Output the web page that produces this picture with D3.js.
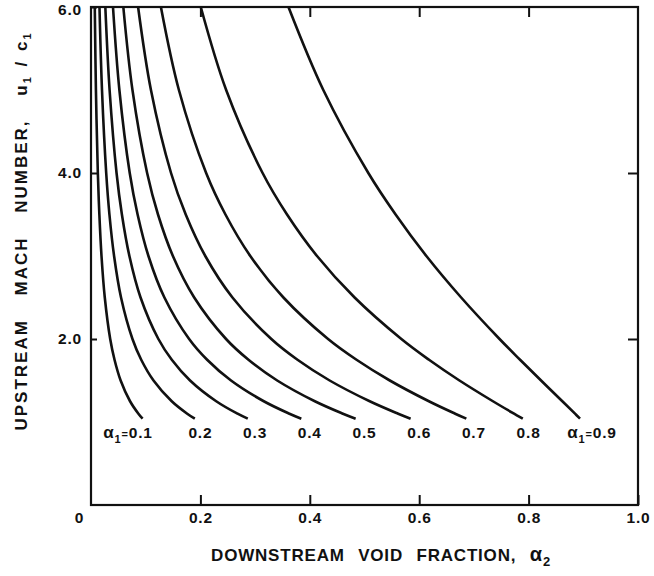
<!DOCTYPE html>
<html>
<head>
<meta charset="utf-8">
<script src="https://cdn.jsdelivr.net/npm/d3@7"></script>
<style>
  html, body { margin: 0; padding: 0; background: #fff; }
  svg { display: block; }
  text { font-family: "Liberation Sans", Arial, sans-serif; font-weight: bold; fill: #111; }
</style>
</head>
<body>
<svg id="chart" width="654" height="576"></svg>
<script>
// Upstream Mach number levels (y) at which points were read
const machLevels = [1.04, 1.1, 1.25, 1.5, 1.75, 2, 2.5, 3, 3.5, 4, 5, 6];
// Upstream void fraction of each curve
const alpha1Values = [0.1, 0.2, 0.3, 0.4, 0.5, 0.6, 0.7, 0.8, 0.9];
// Downstream void fraction (x) of each curve at the Mach levels above
const curveA01 = [0.0943, 0.0867, 0.0714, 0.0542, 0.0430, 0.0351, 0.0252, 0.0192, 0.0153, 0.0125, 0.0090, 0.0069];
const curveA02 = [0.1898, 0.1759, 0.1476, 0.1143, 0.0918, 0.0758, 0.0549, 0.0422, 0.0337, 0.0278, 0.0201, 0.0155];
const curveA03 = [0.2866, 0.2679, 0.2289, 0.1811, 0.1477, 0.1232, 0.0906, 0.0702, 0.0565, 0.0467, 0.0340, 0.0262];
const curveA04 = [0.3845, 0.3628, 0.3159, 0.2560, 0.2123, 0.1794, 0.1342, 0.1050, 0.0852, 0.0708, 0.0519, 0.0402];
const curveA05 = [0.4838, 0.4606, 0.4092, 0.3404, 0.2879, 0.2469, 0.1887, 0.1497, 0.1225, 0.1026, 0.0758, 0.0591];
const curveA06 = [0.5843, 0.5616, 0.5095, 0.4363, 0.3775, 0.3297, 0.2586, 0.2089, 0.1732, 0.1463, 0.1096, 0.0861];
const curveA07 = [0.6862, 0.6658, 0.6177, 0.5463, 0.4854, 0.4334, 0.3518, 0.2912, 0.2458, 0.2105, 0.1607, 0.1278];
const curveA08 = [0.7894, 0.7735, 0.7348, 0.6736, 0.6179, 0.5674, 0.4819, 0.4132, 0.3584, 0.3137, 0.2471, 0.2007];
const curveA09 = [0.8940, 0.8849, 0.8617, 0.8228, 0.7844, 0.7469, 0.6767, 0.6131, 0.5569, 0.5070, 0.4247, 0.3610];
const curves = [curveA01, curveA02, curveA03, curveA04, curveA05, curveA06, curveA07, curveA08, curveA09];
// Curve labels
const curveLabels = ["0.1", "0.2", "0.3", "0.4", "0.5", "0.6", "0.7", "0.8", "0.9"];
// Axis ticks
const xTicks = [0.2, 0.4, 0.6, 0.8, 1.0];
const yTicks = [2, 4, 6];
const originLabel = "0";

const svg = d3.select("#chart");
const x = d3.scaleLinear().domain([0, 1]).range([91, 638]);
const y = d3.scaleLinear().domain([0, 6]).range([505, 7]);

svg.append("rect").attr("width", 654).attr("height", 576).attr("fill", "#fff");

// frame
svg.append("rect")
  .attr("x", x(0)).attr("y", y(6))
  .attr("width", x(1) - x(0)).attr("height", y(0) - y(6))
  .attr("fill", "none").attr("stroke", "#111").attr("stroke-width", 2.2);

function styleAxis(g) {
  g.select(".domain").remove();
  g.selectAll(".tick line").attr("stroke", "#111").attr("stroke-width", 2);
  g.selectAll(".tick text").attr("font-size", 15.5).attr("fill", "#111")
    .attr("font-family", "Liberation Sans, Arial, sans-serif").attr("font-weight", "bold")
    .attr("letter-spacing", 0.8);
}

svg.append("g").attr("transform", `translate(0,${y(0)})`)
  .call(d3.axisBottom(x).tickValues(xTicks).tickFormat(d3.format(".1f")).tickSize(-10).tickSizeOuter(0).tickPadding(7))
  .call(styleAxis);
svg.append("g").attr("transform", `translate(0,${y(6)})`)
  .call(d3.axisTop(x).tickValues(xTicks.slice(0, 4)).tickFormat("").tickSize(-10).tickSizeOuter(0))
  .call(styleAxis);
const leftAxis = svg.append("g").attr("transform", `translate(${x(0)},0)`)
  .call(d3.axisLeft(y).tickValues(yTicks).tickFormat(d3.format(".1f")).tickSize(-6).tickSizeOuter(0).tickPadding(9))
  .call(styleAxis);
// keep the top label inside the picture
leftAxis.selectAll(".tick text").filter(d => d === 6).attr("dy", "0.5em");
svg.append("g").attr("transform", `translate(${x(1)},0)`)
  .call(d3.axisRight(y).tickValues(yTicks.slice(0, 2)).tickFormat("").tickSize(-10).tickSizeOuter(0))
  .call(styleAxis);

svg.append("text").attr("x", x(0) - 12).attr("y", y(0) + 18)
  .attr("text-anchor", "middle").attr("font-size", 15.5).text(originLabel);

// curves
const line = d3.line()
  .x(d => x(d[0])).y(d => y(d[1]))
  .curve(d3.curveCatmullRom.alpha(0.5));

curves.forEach((vals, i) => {
  const pts = vals.map((v, j) => [v, machLevels[j]]);
  svg.append("path").datum(pts)
    .attr("d", line)
    .attr("fill", "none").attr("stroke", "#111").attr("stroke-width", 2.6)
    .attr("stroke-linejoin", "round");
});

// curve labels
const labelY = y(0) - 67;
curveLabels.forEach((lab, i) => {
  const a = alpha1Values[i];
  const t = svg.append("text").attr("y", labelY).attr("font-size", 15.5).attr("letter-spacing", 0.8);
  if (i === 0 || i === curveLabels.length - 1) {
    if (i === 0) t.attr("x", x(a) + 7).attr("text-anchor", "end");
    else t.attr("x", x(a) - 16).attr("text-anchor", "start");
    t.append("tspan").text("α").attr("font-size", 17);
    t.append("tspan").text("1").attr("font-size", 11).attr("dy", 5);
    t.append("tspan").text("=").attr("font-size", 11).attr("dy", -5);
    t.append("tspan").text(lab);
  } else {
    t.attr("x", x(a)).attr("text-anchor", "middle").text(lab);
  }
});

// x-axis title
const xt = svg.append("text").attr("x", 381).attr("y", 561)
  .attr("text-anchor", "middle").attr("font-size", 17)
  .attr("letter-spacing", 0.8).attr("word-spacing", 8);
xt.append("tspan").text("DOWNSTREAM VOID FRACTION, ");
xt.append("tspan").text("α").attr("font-size", 20);
xt.append("tspan").text("2").attr("font-size", 13).attr("dy", 5);

// y-axis title
const yt = svg.append("text")
  .attr("transform", "translate(27,231) rotate(-90)")
  .attr("text-anchor", "middle").attr("font-size", 17)
  .attr("letter-spacing", 2).attr("word-spacing", 17);
yt.append("tspan").text("UPSTREAM MACH NUMBER, u");
yt.append("tspan").text("1").attr("font-size", 11).attr("dy", 4);
yt.append("tspan").text(" / c").attr("dy", -4).attr("word-spacing", 2);
yt.append("tspan").text("1").attr("font-size", 11).attr("dy", 4);
</script>
</body>
</html>
